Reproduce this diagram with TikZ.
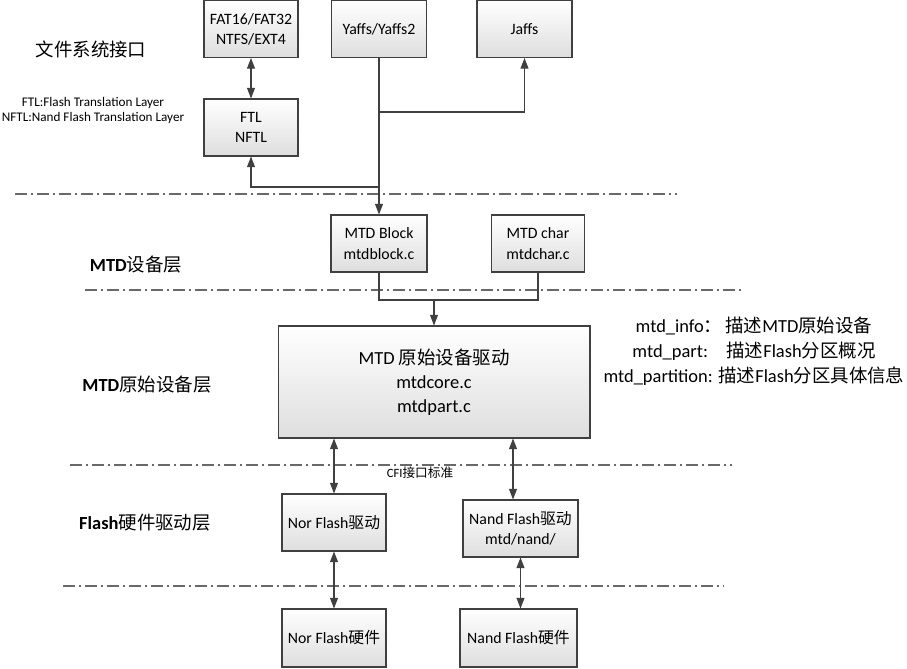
\documentclass[tikz,border=0pt]{standalone}
\usepackage{fontspec}
\setmainfont{Carlito}
\newfontfamily\cjk{Noto Sans CJK SC}
\usepackage{xcolor}
\usepackage{tikz}
\usetikzlibrary{arrows.meta,shapes,backgrounds}
\definecolor{boxline}{RGB}{64,64,64}
\definecolor{layerline}{RGB}{105,105,105}
\definecolor{boxshade}{RGB}{222,222,222}

\tikzset{
  module/.style={draw=boxline, line width=0.6pt, top color=white, bottom color=boxshade,
    align=center, inner sep=0pt, font=\fontsize{9}{11.5}\selectfont},
  layername/.style={font=\fontsize{10.5}{13}\selectfont},
  layersep/.style={draw=layerline, line width=0.9pt,
    dash pattern=on 0.24cm off 0.08cm on 0.04cm off 0.08cm},
  link/.style={draw=boxline, line width=0.6pt},
  tip/.style={-{Triangle[length=6pt,width=4.5pt]}},
  tips/.style={{Triangle[length=6pt,width=4.5pt]}-{Triangle[length=6pt,width=4.5pt]}}
}

\begin{document}
\begin{tikzpicture}[x=0.02cm, y=-0.02cm]
            \useasboundingbox (0,0) rectangle (907,669);

            % Layer separators
            \draw[layersep] (15,194) -- (677,194);
            \draw[layersep] (85,290) -- (742,290);
            \draw[layersep] (70,465) -- (732,465);
            \draw[layersep] (63,586) -- (723,586);

            % Layer names
            \node[layername] (fsname) at (91,49) {{\cjk 文件系统接口}};
            \node[layername] (devname) at (136,265) {\textbf{MTD}{\cjk 设备层}};
            \node[layername] (rawname) at (147,385) {\textbf{MTD}{\cjk 原始设备层}};
            \node[layername] (hwname) at (145,523) {\textbf{Flash}{\cjk 硬件驱动层}};

            \node[font=\fontsize{7.5}{9}\selectfont, align=center] (ftlnote) at (93,110.5)
                {FTL:Flash Translation Layer\\NFTL:Nand Flash Translation Layer};

            % File systems
            \node[module, minimum width=1.88cm, minimum height=1.14cm] (fat) at (251,29) {FAT16/FAT32\\NTFS/EXT4};
            \node[module, minimum width=1.9cm, minimum height=1.14cm] (yaffs) at (379,29) {Yaffs/Yaffs2};
            \node[module, minimum width=1.9cm, minimum height=1.14cm] (jaffs) at (524.5,29) {Jaffs};
            \node[module, minimum width=1.88cm, minimum height=1.14cm] (ftl) at (251,127.5) {FTL\\NFTL};

            % MTD devices
            \node[module, minimum width=1.92cm, minimum height=1.14cm] (mtdblock) at (379,243.5) {MTD Block\\mtdblock.c};
            \node[module, minimum width=1.86cm, minimum height=1.14cm] (mtdchar) at (538,243.5) {MTD char\\mtdchar.c};

            % Raw devices
            \node[module, minimum width=6.24cm, minimum height=2.24cm, font=\fontsize{10.5}{13.5}\selectfont]
                (mtdcore) at (434,382) {MTD {\cjk 原始设备驱动}\\mtdcore.c\\mtdpart.c};
            \node[font=\fontsize{10.5}{14.2}\selectfont, align=center] (mtdstructs) at (754,351)
                {mtd\_info{\cjk ：}\,{\cjk 描述}MTD{\cjk 原始设备}\\
                 mtd\_part:\quad{\cjk 描述}Flash{\cjk 分区概况}\\
                 mtd\_partition: {\cjk 描述}Flash{\cjk 分区具体信息}};

            % Flash drivers and hardware
            \node[font=\fontsize{7.2}{9}\selectfont] (cfi) at (420,473) {CFI{\cjk 接口标准}};
            \node[module, minimum width=2.08cm, minimum height=1.14cm] (nordrv) at (334,522.5) {Nor Flash{\cjk 驱动}};
            \node[module, minimum width=2.3cm, minimum height=1.14cm] (nanddrv) at (520.5,528.5) {Nand Flash{\cjk 驱动}\\mtd/nand/};
            \node[module, minimum width=2.08cm, minimum height=1.16cm] (norhw) at (334,638) {Nor Flash{\cjk 硬件}};
            \node[module, minimum width=2.34cm, minimum height=1.16cm] (nandhw) at (518.5,638) {Nand Flash{\cjk 硬件}};

            % Connections
            \coordinate (jaffsturn) at (379,112);
            \coordinate (ftlturn) at (379,187);
            \coordinate (charjoin) at (434,300);
            \path ([xshift=-0.15cm]nanddrv.north) coordinate (nandin);

            \draw[link, tips] (fat) -- (ftl);
            \draw[link, tip] (yaffs) -- (mtdblock);
            \draw[link, tip] (jaffsturn) -| (jaffs);
            \draw[link, tip] (ftlturn) -| (ftl);
            \draw[link] (mtdblock) |- (charjoin) -| (mtdchar);
            \draw[link, tip] (charjoin) -- (mtdcore);
            \draw[link, tips] (mtdcore.south -| nordrv) -- (nordrv);
            \draw[link, tips] (mtdcore.south -| nandin) -- (nandin);
            \draw[link, tips] (nordrv) -- (norhw);
            \draw[link, tips] (nanddrv.south) -- (nanddrv.south |- nandhw.north);
        \end{tikzpicture}
\end{document}
